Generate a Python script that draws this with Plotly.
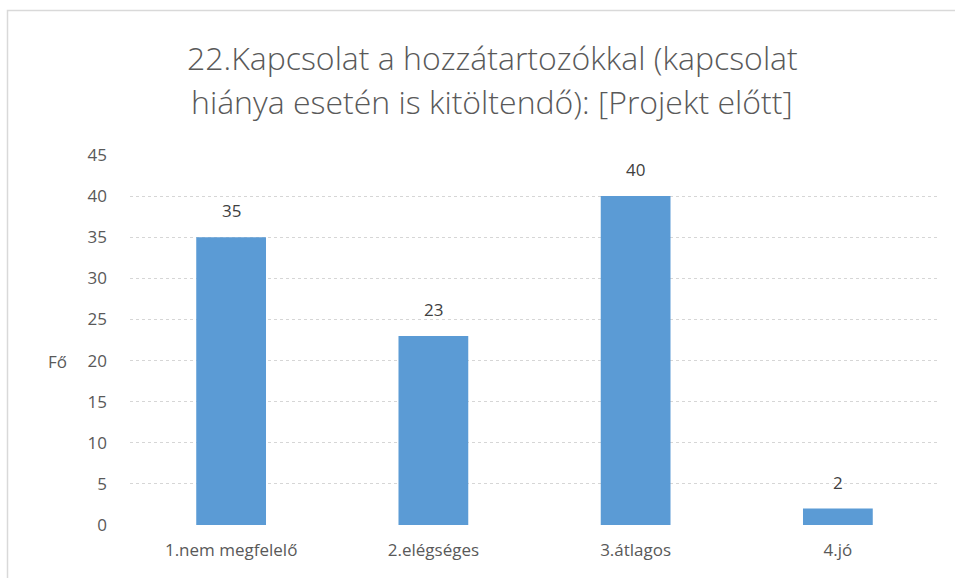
import plotly.graph_objects as go

categories = ["1.nem megfelelő", "2.elégséges", "3.átlagos", "4.jó"]
values = [35, 23, 40, 2]
y_ticks = [0, 5, 10, 15, 20, 25, 30, 35, 40, 45]
title_lines = ["22.Kapcsolat a hozzátartozókkal (kapcsolat",
               "hiánya esetén is kitöltendő): [Projekt előtt]"]
y_title = "Fő"

W, H = 955, 578
L, R, T, B = 130, 16, 155, 53
plot_w = W - L - R
plot_h = H - T - B

def px_x(x):
    return (x - L) / plot_w

def px_y(y):
    return (H - B - y) / plot_h

FONT = "Open Sans"
GRAY = "#595959"

fig = go.Figure()
fig.add_trace(go.Bar(
    x=categories, y=values,
    marker=dict(color="#5B9BD5", line=dict(width=0)),
    width=0.345,
    hoverinfo="x+y",
))

# value labels above each bar
for c, v in zip(categories, values):
    fig.add_annotation(x=c, y=v, xref="x", yref="y", text=str(v),
                       showarrow=False, yanchor="bottom", yshift=13,
                       font=dict(family=FONT, size=17, color="#404040"))

# two-line title
for i, line in enumerate(title_lines):
    fig.add_annotation(x=px_x(492), y=px_y(57 + 45 * i), xref="paper", yref="paper",
                       text=line, showarrow=False, xanchor="center", yanchor="middle",
                       font=dict(family=FONT, size=32, color=GRAY, weight=300))

# y axis title, horizontal
fig.add_annotation(x=px_x(57), y=px_y(361), xref="paper", yref="paper",
                   text=y_title, showarrow=False, xanchor="center", yanchor="middle",
                   font=dict(family=FONT, size=17, color=GRAY))

# chart border
fig.add_shape(type="rect", xref="paper", yref="paper",
              x0=px_x(7.5), x1=px_x(W + 20), y0=px_y(H + 20), y1=px_y(10.5),
              line=dict(color="#D9D9D9", width=1.5), fillcolor="rgba(0,0,0,0)",
              layer="below")

fig.update_layout(
    width=W, height=H,
    margin=dict(l=L, r=R, t=T, b=B, pad=0),
    paper_bgcolor="white", plot_bgcolor="white",
    showlegend=False,
    font=dict(family=FONT, size=17, color=GRAY),
    xaxis=dict(showgrid=False, showline=False, ticks="", zeroline=False,
               tickfont=dict(size=17, color=GRAY), ticklabelstandoff=13),
    yaxis=dict(range=[0, 45], tickvals=y_ticks, showgrid=True,
               gridcolor="#D6D6D6", griddash="dot", gridwidth=1,
               zeroline=False, showline=False, ticks="",
               tickfont=dict(size=17, color=GRAY), ticklabelstandoff=22),
)

fig.write_html("out.html")
